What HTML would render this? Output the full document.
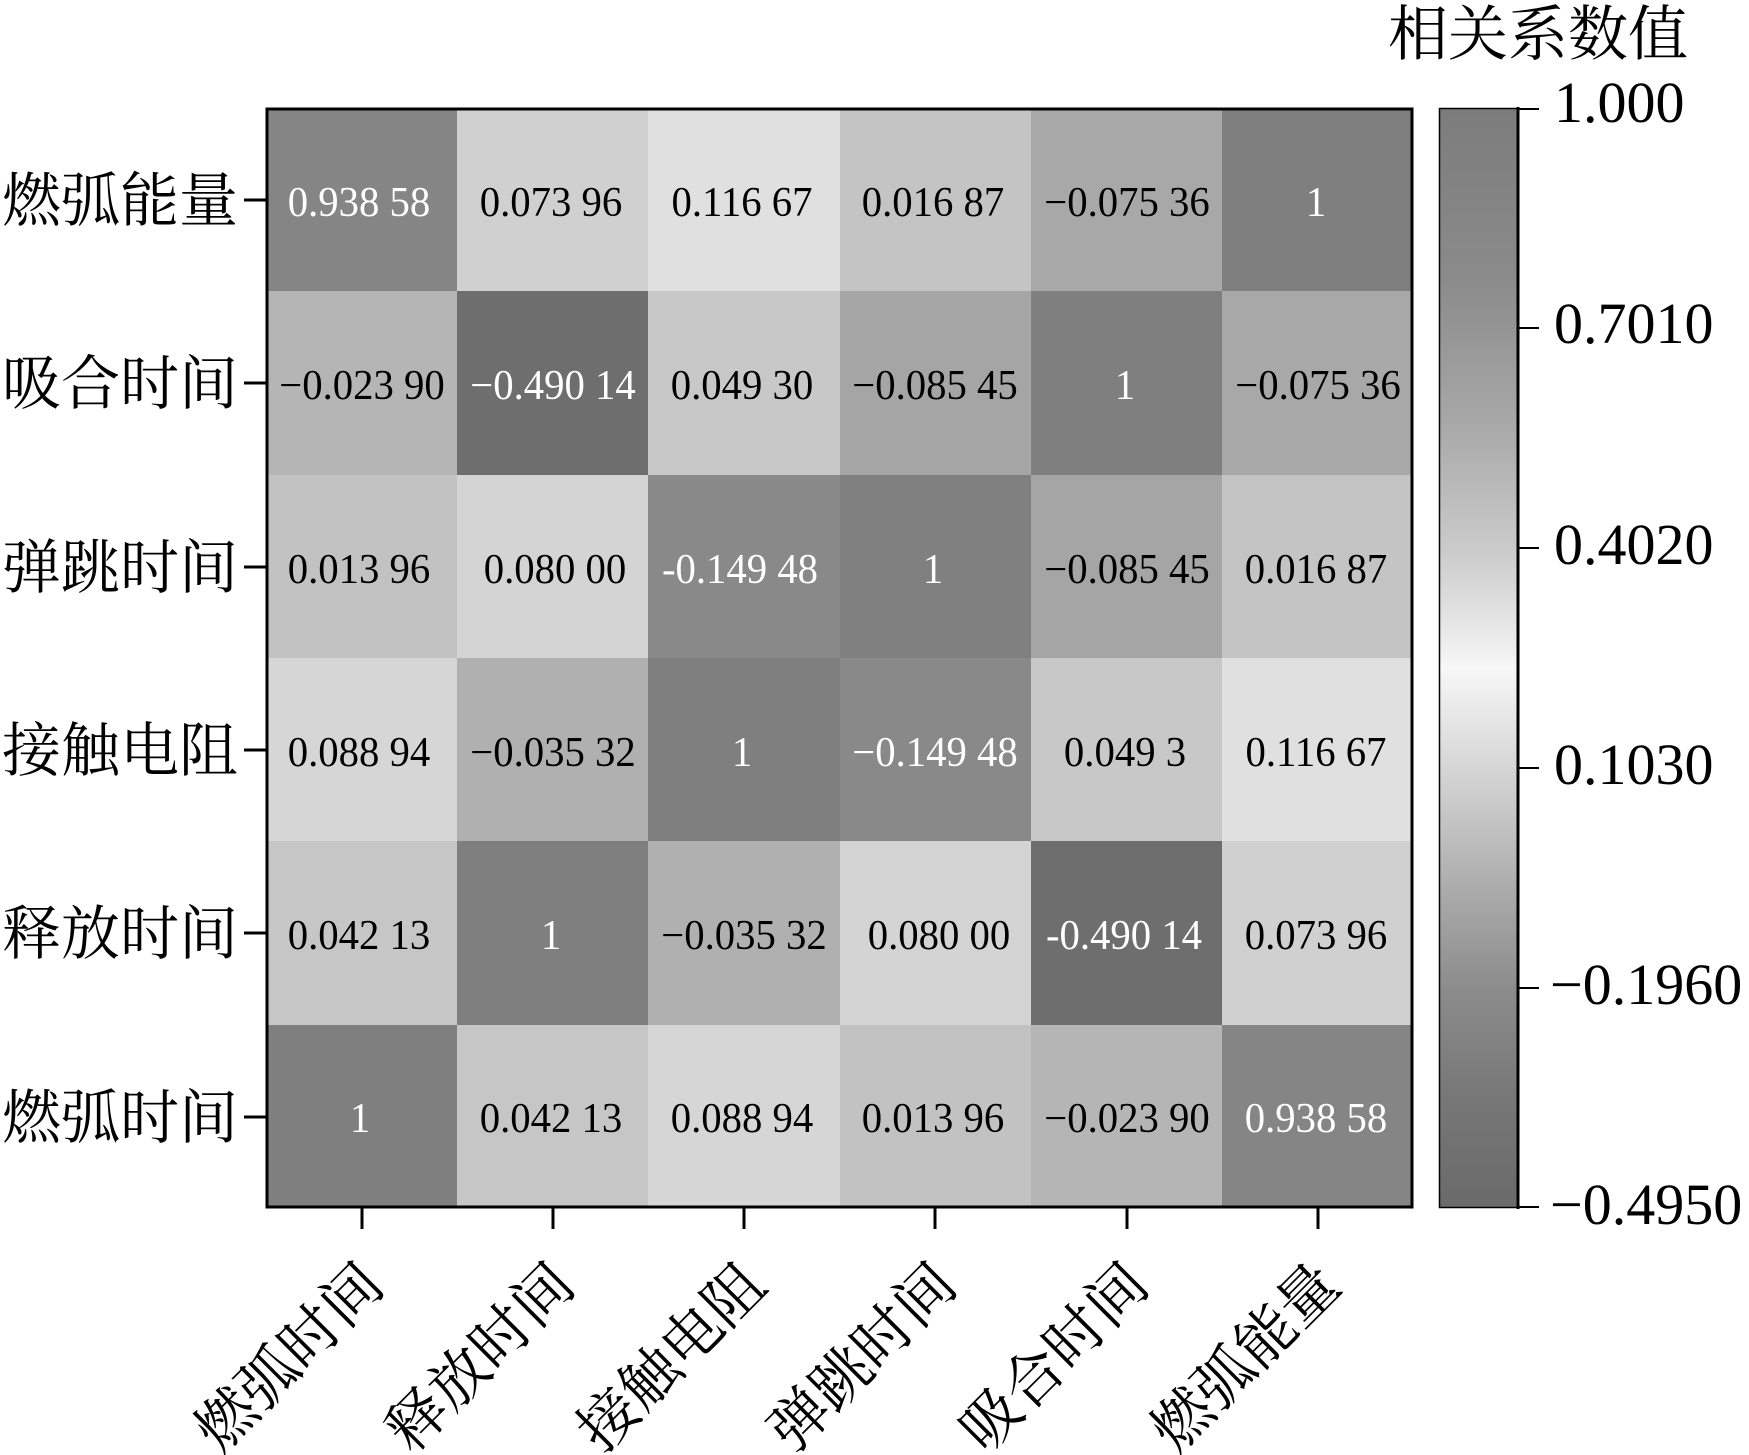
<!DOCTYPE html>
<html><head><meta charset="utf-8"><style>
html,body{margin:0;padding:0;background:#fff;}
svg{display:block;}
.v{font-family:"Liberation Serif",serif;font-size:42px;text-anchor:middle;}
.cj{font-family:"Liberation Serif","Noto Serif CJK SC","Noto Sans CJK SC",serif;font-size:59px;}
.tk{font-family:"Liberation Serif",serif;font-size:58px;}
</style></head><body>
<svg width="1749" height="1455" viewBox="0 0 1749 1455" xmlns="http://www.w3.org/2000/svg">
<defs>
<linearGradient id="cb" x1="0" y1="0" x2="0" y2="1">
<stop offset="0" stop-color="#7c7c7c"/>
<stop offset="0.15" stop-color="#8a8a8a"/>
<stop offset="0.28" stop-color="#a6a6a6"/>
<stop offset="0.40" stop-color="#cacaca"/>
<stop offset="0.47" stop-color="#e6e6e6"/>
<stop offset="0.51" stop-color="#f7f7f7"/>
<stop offset="0.55" stop-color="#e8e8e8"/>
<stop offset="0.63" stop-color="#cbcbcb"/>
<stop offset="0.72" stop-color="#a8a8a8"/>
<stop offset="0.80" stop-color="#8c8c8c"/>
<stop offset="0.90" stop-color="#777777"/>
<stop offset="1" stop-color="#6a6a6a"/>
</linearGradient>
</defs>
<g>
<rect x="266" y="108" width="192" height="184" fill="#858585"/>
<rect x="457" y="108" width="192" height="184" fill="#d0d0d0"/>
<rect x="648" y="108" width="192" height="184" fill="#e0e0e0"/>
<rect x="840" y="108" width="192" height="184" fill="#c4c4c4"/>
<rect x="1031" y="108" width="192" height="184" fill="#a8a8a8"/>
<rect x="1222" y="108" width="191" height="184" fill="#7f7f7f"/>

<rect x="266" y="291" width="192" height="184" fill="#b5b5b5"/>
<rect x="457" y="291" width="192" height="184" fill="#6e6e6e"/>
<rect x="648" y="291" width="192" height="184" fill="#c8c8c8"/>
<rect x="840" y="291" width="192" height="184" fill="#a5a5a5"/>
<rect x="1031" y="291" width="192" height="184" fill="#7f7f7f"/>
<rect x="1222" y="291" width="191" height="184" fill="#a8a8a8"/>

<rect x="266" y="475" width="192" height="184" fill="#c2c2c2"/>
<rect x="457" y="475" width="192" height="184" fill="#d4d4d4"/>
<rect x="648" y="475" width="192" height="184" fill="#898989"/>
<rect x="840" y="475" width="192" height="184" fill="#808080"/>
<rect x="1031" y="475" width="192" height="184" fill="#a5a5a5"/>
<rect x="1222" y="475" width="191" height="184" fill="#c4c4c4"/>

<rect x="266" y="658" width="192" height="184" fill="#d6d6d6"/>
<rect x="457" y="658" width="192" height="184" fill="#b0b0b0"/>
<rect x="648" y="658" width="192" height="184" fill="#7f7f7f"/>
<rect x="840" y="658" width="192" height="184" fill="#898989"/>
<rect x="1031" y="658" width="192" height="184" fill="#c8c8c8"/>
<rect x="1222" y="658" width="191" height="184" fill="#e0e0e0"/>

<rect x="266" y="841" width="192" height="184" fill="#c6c6c6"/>
<rect x="457" y="841" width="192" height="184" fill="#7f7f7f"/>
<rect x="648" y="841" width="192" height="184" fill="#b0b0b0"/>
<rect x="840" y="841" width="192" height="184" fill="#d4d4d4"/>
<rect x="1031" y="841" width="192" height="184" fill="#6e6e6e"/>
<rect x="1222" y="841" width="191" height="184" fill="#d0d0d0"/>

<rect x="266" y="1025" width="192" height="183" fill="#7f7f7f"/>
<rect x="457" y="1025" width="192" height="183" fill="#c6c6c6"/>
<rect x="648" y="1025" width="192" height="183" fill="#d6d6d6"/>
<rect x="840" y="1025" width="192" height="183" fill="#c2c2c2"/>
<rect x="1031" y="1025" width="192" height="183" fill="#b5b5b5"/>
<rect x="1222" y="1025" width="191" height="183" fill="#858585"/>
</g>
<g class="v">
<g transform="translate(0,216)">
<text transform="translate(359,0) scale(0.97,1)" fill="#fff">0.938 58</text>
<text transform="translate(551,0) scale(0.97,1)">0.073 96</text>
<text transform="translate(742,0) scale(0.97,1)">0.116 67</text>
<text transform="translate(933,0) scale(0.97,1)">0.016 87</text>
<text transform="translate(1127,0) scale(0.97,1)">−0.075 36</text>
<text transform="translate(1316,0) scale(0.97,1)" fill="#fff">1</text>
</g>
<g transform="translate(0,399)">
<text transform="translate(362,0) scale(0.97,1)">−0.023 90</text>
<text transform="translate(553,0) scale(0.97,1)" fill="#fff">−0.490 14</text>
<text transform="translate(742,0) scale(0.97,1)">0.049 30</text>
<text transform="translate(935,0) scale(0.97,1)">−0.085 45</text>
<text transform="translate(1125,0) scale(0.97,1)" fill="#fff">1</text>
<text transform="translate(1318,0) scale(0.97,1)">−0.075 36</text>
</g>
<g transform="translate(0,583)">
<text transform="translate(359,0) scale(0.97,1)">0.013 96</text>
<text transform="translate(555,0) scale(0.97,1)">0.080 00</text>
<text transform="translate(740,0) scale(0.97,1)" fill="#fff">-0.149 48</text>
<text transform="translate(933,0) scale(0.97,1)" fill="#fff">1</text>
<text transform="translate(1127,0) scale(0.97,1)">−0.085 45</text>
<text transform="translate(1316,0) scale(0.97,1)">0.016 87</text>
</g>
<g transform="translate(0,766)">
<text transform="translate(359,0) scale(0.97,1)">0.088 94</text>
<text transform="translate(553,0) scale(0.97,1)">−0.035 32</text>
<text transform="translate(742,0) scale(0.97,1)" fill="#fff">1</text>
<text transform="translate(935,0) scale(0.97,1)" fill="#fff">−0.149 48</text>
<text transform="translate(1125,0) scale(0.97,1)">0.049 3</text>
<text transform="translate(1316,0) scale(0.97,1)">0.116 67</text>
</g>
<g transform="translate(0,949)">
<text transform="translate(359,0) scale(0.97,1)">0.042 13</text>
<text transform="translate(551,0) scale(0.97,1)" fill="#fff">1</text>
<text transform="translate(744,0) scale(0.97,1)">−0.035 32</text>
<text transform="translate(939,0) scale(0.97,1)">0.080 00</text>
<text transform="translate(1124,0) scale(0.97,1)" fill="#fff">-0.490 14</text>
<text transform="translate(1316,0) scale(0.97,1)">0.073 96</text>
</g>
<g transform="translate(0,1132)">
<text transform="translate(360,0) scale(0.97,1)" fill="#fff">1</text>
<text transform="translate(551,0) scale(0.97,1)">0.042 13</text>
<text transform="translate(742,0) scale(0.97,1)">0.088 94</text>
<text transform="translate(933,0) scale(0.97,1)">0.013 96</text>
<text transform="translate(1127,0) scale(0.97,1)">−0.023 90</text>
<text transform="translate(1316,0) scale(0.97,1)" fill="#fff">0.938 58</text>
</g>
</g>
<rect x="267" y="109" width="1145" height="1098" fill="none" stroke="#000" stroke-width="3"/>
<g stroke="#000" stroke-width="3">
<line x1="244" y1="200" x2="266" y2="200"/>
<line x1="244" y1="383" x2="266" y2="383"/>
<line x1="244" y1="567" x2="266" y2="567"/>
<line x1="244" y1="750" x2="266" y2="750"/>
<line x1="244" y1="933" x2="266" y2="933"/>
<line x1="244" y1="1117" x2="266" y2="1117"/>
<line x1="362" y1="1208" x2="362" y2="1229"/>
<line x1="553" y1="1208" x2="553" y2="1229"/>
<line x1="744" y1="1208" x2="744" y2="1229"/>
<line x1="935" y1="1208" x2="935" y2="1229"/>
<line x1="1127" y1="1208" x2="1127" y2="1229"/>
<line x1="1318" y1="1208" x2="1318" y2="1229"/>
</g>
<g class="cj" text-anchor="end">
<text x="238" y="221">燃弧能量</text>
<text x="238" y="404">吸合时间</text>
<text x="238" y="588">弹跳时间</text>
<text x="238" y="771">接触电阻</text>
<text x="238" y="954">释放时间</text>
<text x="238" y="1138">燃弧时间</text>
</g>
<g class="cj" text-anchor="end">
<text transform="translate(387,1288) rotate(-45)">燃弧时间</text>
<text transform="translate(578,1288) rotate(-45)">释放时间</text>
<text transform="translate(769,1288) rotate(-45)">接触电阻</text>
<text transform="translate(960,1288) rotate(-45)">弹跳时间</text>
<text transform="translate(1152,1288) rotate(-45)">吸合时间</text>
<text transform="translate(1343,1288) rotate(-45)">燃弧能量</text>
</g>
<rect x="1439" y="108" width="79" height="1100" fill="url(#cb)"/>
<rect x="1439.5" y="108.5" width="78" height="1099" fill="none" stroke="#000" stroke-width="1.5"/>
<line x1="1518" y1="107" x2="1518" y2="1209" stroke="#000" stroke-width="3"/>
<g stroke="#000" stroke-width="2">
<line x1="1518" y1="109" x2="1539" y2="109"/>
<line x1="1518" y1="328" x2="1539" y2="328"/>
<line x1="1518" y1="548" x2="1539" y2="548"/>
<line x1="1518" y1="768" x2="1539" y2="768"/>
<line x1="1518" y1="988" x2="1539" y2="988"/>
<line x1="1518" y1="1207" x2="1539" y2="1207"/>
</g>
<g class="tk">
<text x="1554" y="122">1.000</text>
<text x="1554" y="343">0.7010</text>
<text x="1554" y="564">0.4020</text>
<text x="1554" y="784">0.1030</text>
<text x="1550" y="1004">−0.1960</text>
<text x="1550" y="1224">−0.4950</text>
</g>
<text class="cj" x="1388" y="55" style="font-size:60px">相关系数值</text>
</svg>
</body></html>
